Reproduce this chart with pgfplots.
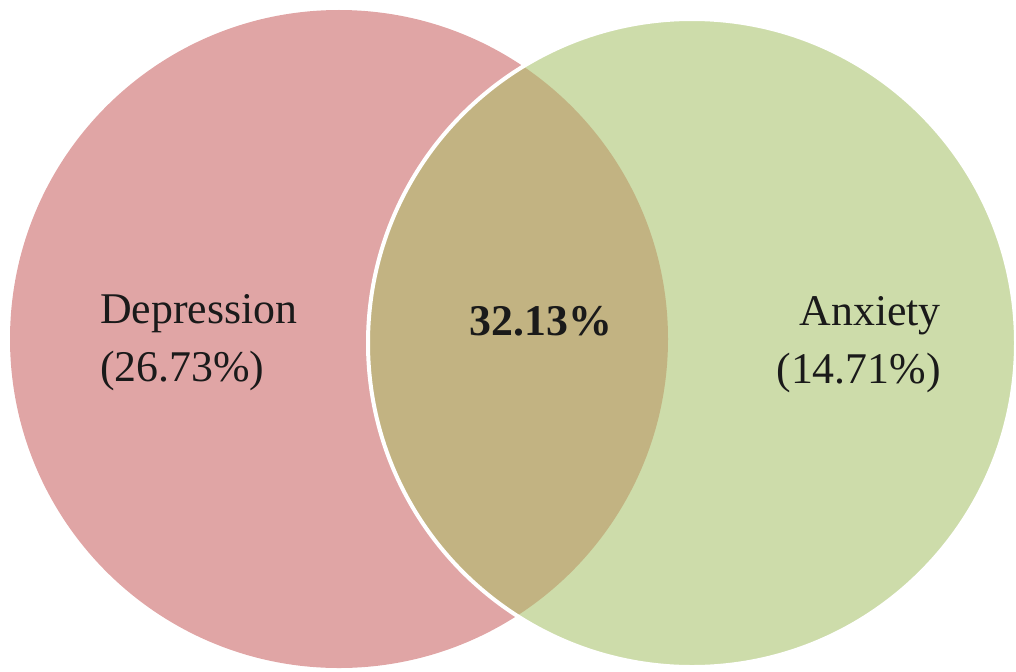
\documentclass[border=0pt]{standalone}
\usepackage{fontspec}
\setmainfont{Liberation Serif}
\usepackage{pgfplots}
\pgfplotsset{compat=1.18}
\definecolor{dep}{HTML}{E0A5A5}
\definecolor{anx}{HTML}{CDDCAA}
\definecolor{both}{HTML}{C2B382}
\definecolor{txt}{HTML}{1A1A1A}
\begin{document}
\begin{tikzpicture}
\begin{axis}[
  scale only axis, width=1016bp, height=671bp,
  xmin=0, xmax=1016, ymin=0, ymax=671, y dir=reverse,
  hide axis, clip=true]
\path (rel axis cs:0,0) rectangle (rel axis cs:1,1);
% Depression circle: centre (339,339), radius 329
\fill[dep] (axis cs:339,339) circle[radius=329];
% Anxiety circle: centre (692,343), radius 324
\fill[anx] (axis cs:692,343) circle[radius=324];
\begin{scope}
\clip (axis cs:692,343) circle[radius=324];
\fill[both] (axis cs:339,339) circle[radius=329];
\end{scope}
\draw[white, line width=4bp] (axis cs:692,343) circle[radius=324];
\node[anchor=base west, text=txt, font=\fontsize{44}{52}\selectfont, inner sep=0pt] at (axis cs:100,323) {Depression};
\node[anchor=base west, text=txt, font=\fontsize{44}{52}\selectfont, inner sep=0pt] at (axis cs:100,381) {(26.73\%)};
\node[anchor=base, text=txt, font=\fontsize{44}{52}\selectfont\bfseries, inner sep=0pt] at (axis cs:541,335) {32.13\%};
\node[anchor=base east, text=txt, font=\fontsize{44}{52}\selectfont, inner sep=0pt] at (axis cs:941,325) {Anxiety};
\node[anchor=base east, text=txt, font=\fontsize{44}{52}\selectfont, inner sep=0pt] at (axis cs:941,383) {(14.71\%)};
\end{axis}
\end{tikzpicture}
\end{document}
